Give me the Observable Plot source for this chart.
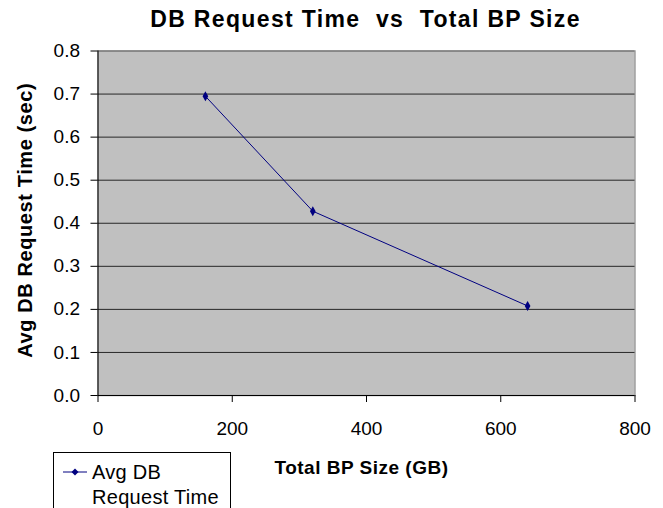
<!DOCTYPE html>
<html>
<head>
<meta charset="utf-8">
<script src="https://cdn.jsdelivr.net/npm/d3@7"></script>
<script src="https://cdn.jsdelivr.net/npm/@observablehq/plot@0.6"></script>
<style>
  html, body { margin: 0; padding: 0; background: #fff; }
  #wrap { position: relative; width: 663px; height: 508px; overflow: hidden; font-family: "Liberation Sans", Arial, sans-serif; }
  #legend { position: absolute; left: 53px; top: 452px; width: 176px; height: 70px; border: 1px solid #000; background: #fff; }
  #legend .txt { position: absolute; left: 38px; top: 7px; font-size: 20px; line-height: 25px; letter-spacing: 0.3px; color: #000; }
  #legend svg { position: absolute; left: 9px; top: 13px; }
</style>
</head>
<body>
<div id="wrap"></div>
<script>
const titleText = "DB Request Time  vs  Total BP Size";
const xLabel = "Total BP Size (GB)";
const yLabel = "Avg DB Request Time (sec)";
const seriesName = ["Avg DB", "Request Time"];
const bpSizeGB = [160, 320, 640];
const avgRequestSec = [0.695, 0.428, 0.208];
const xTicks = [0, 200, 400, 600, 800];
const yTicks = [0, 0.1, 0.2, 0.3, 0.4, 0.5, 0.6, 0.7, 0.8];

const data = bpSizeGB.map((x, i) => ({x, y: avgRequestSec[i]}));

const chart = Plot.plot({
  width: 663,
  height: 508,
  marginLeft: 97.5,
  marginRight: 28.5,
  marginTop: 50.5,
  marginBottom: 113,
  style: {fontFamily: "'Liberation Sans', Arial, sans-serif", fontSize: "19px", background: "transparent", color: "#000", overflow: "visible"},
  x: {domain: [0, 800], ticks: xTicks},
  y: {domain: [0, 0.8], ticks: yTicks},
  marks: [
    Plot.frame({fill: "#C0C0C0", stroke: "#A0A0A0", strokeWidth: 1.5}),
    Plot.ruleY(yTicks.filter(d => d > 0 && d < 0.8), {stroke: "#000", strokeOpacity: 0.8, strokeWidth: 1}),
    Plot.ruleY([0.8], {stroke: "#666", strokeWidth: 1}),
    Plot.ruleX([0], {stroke: "#000", strokeWidth: 1}),
    Plot.ruleY([0], {stroke: "#000", strokeWidth: 1}),
    Plot.axisY({ticks: yTicks, tickFormat: d3.format(".1f"), tickSize: 7, tickPadding: 11, label: null}),
    Plot.axisX({ticks: xTicks, tickFormat: d3.format("d"), tickSize: 7, tickPadding: 19, label: null}),
    Plot.text([titleText], {frameAnchor: "top", dy: -31, dx: -1, textAnchor: "middle", lineAnchor: "middle", fontWeight: "bold", fontSize: 23}),
    Plot.text([xLabel], {frameAnchor: "bottom", dy: 72, dx: -5, textAnchor: "middle", lineAnchor: "middle", fontWeight: "bold", fontSize: 19}),
    Plot.text([yLabel], {frameAnchor: "left", dx: -72, dy: -3, rotate: -90, textAnchor: "middle", lineAnchor: "middle", fontWeight: "bold", fontSize: 20}),
    Plot.line(data, {x: "x", y: "y", stroke: "#000080", strokeWidth: 1}),
    Plot.dot(data, {x: "x", y: "y", symbol: "diamond", r: 3, fill: "#000080", stroke: "none"})
  ]
});
document.getElementById("wrap").appendChild(chart);
const spacing = {[titleText]: "1.35px", [xLabel]: "0.5px", [yLabel]: "0.6px"};
chart.querySelectorAll("text").forEach(t => {
  if (spacing[t.textContent]) t.style.letterSpacing = spacing[t.textContent];
});

const leg = document.createElement("div");
leg.id = "legend";
leg.innerHTML = `<svg width="30" height="12"><line x1="0" y1="6" x2="24" y2="6" stroke="#000080" stroke-width="1"/><path d="M12,2.5L15.5,6L12,9.5L8.5,6Z" fill="#000080"/></svg><div class="txt">${seriesName[0]}<br>${seriesName[1]}</div>`;
document.getElementById("wrap").appendChild(leg);
</script>
</body>
</html>
